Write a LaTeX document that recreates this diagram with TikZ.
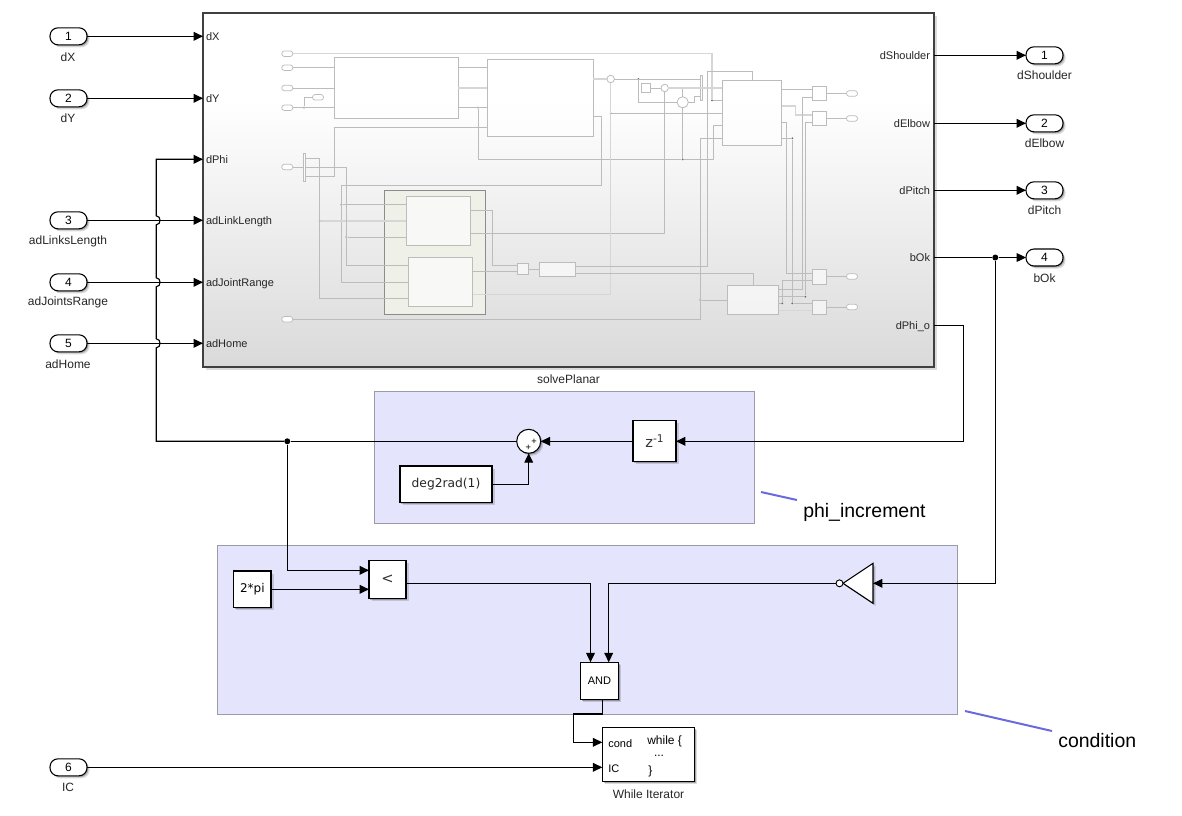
\documentclass[tikz,border=0pt]{standalone}
\usepackage{fontspec}
\setmainfont{Liberation Sans}
\newfontfamily\dejavu{DejaVu Sans}
\usetikzlibrary{arrows.meta,shadows,fit,shapes.geometric}

\definecolor{regionblue}{HTML}{E4E4FC}
\definecolor{regionedge}{HTML}{9A9AA8}
\definecolor{noteblue}{HTML}{6A6ADE}
\definecolor{fadebottom}{HTML}{DADADA}
\definecolor{ghostline}{HTML}{BCBCBC}
\definecolor{ghostbus}{HTML}{D6D6D6}
\definecolor{ghostgroup}{HTML}{EFF1E9}
\pgfdeclareverticalshading{planarfade}{100bp}{color(0bp)=(fadebottom); color(25bp)=(fadebottom); color(62.7bp)=(white); color(100bp)=(white)}

\tikzset{
    softshadow/.style={drop shadow={shadow xshift=1.9pt,shadow yshift=-1.9pt,fill=black,opacity=.14},drop shadow={shadow xshift=1pt,shadow yshift=-1pt,fill=black,opacity=.25}},
    port/.style={draw,thick,fill=white,rounded corners=6pt,minimum width=27.75pt,minimum height=12.75pt,inner sep=0pt,outer sep=0pt,font=\fontsize{9}{10}\selectfont,softshadow},
    caption/.style={inner sep=0pt,text=black!85,font=\fontsize{9}{10}\selectfont},
    portname/.style={inner xsep=2.25pt,inner ysep=0pt,outer sep=0pt,text height=1.5ex,text depth=.25ex,text=black!85,font=\fontsize{8.25}{10}\selectfont},
    block/.style={draw,thick,fill=white,inner sep=0pt,outer sep=0pt,softshadow},
    region/.style={draw=regionedge,fill=regionblue,inner sep=0pt,outer sep=0pt},
    sig/.style={line width=.85pt,-{Triangle[length=7pt,width=6.5pt]}},
    wire/.style={line width=.85pt},
    junction/.style={circle,fill=black,inner sep=0pt,minimum size=4.5pt},
    note/.style={noteblue,line width=1.5pt},
    notetext/.style={inner sep=0pt,font=\fontsize{14.6}{16}\selectfont},
    gwire/.style={draw=ghostline,line width=.55pt},
    gbus/.style={draw=ghostbus,line width=1.1pt},
    gblock/.style={draw=ghostline,line width=.7pt,fill=white,fill opacity=.6,inner sep=0pt,outer sep=0pt},
    gport/.style={draw=ghostline,line width=.55pt,fill=white,rounded corners=2pt,minimum width=8.25pt,minimum height=4.2pt,inner sep=0pt,outer sep=0pt},
    gsum/.style={circle,draw=ghostline,line width=.6pt,fill=white,inner sep=0pt,outer sep=0pt},
    gdot/.style={circle,fill=black!60,inner sep=0pt,minimum size=1.5pt}
}

\begin{document}
\begin{tikzpicture}[x=0.75pt,y=-0.75pt]
    \useasboundingbox (0,0) rectangle (1182,815);

    % Shaded Regions
    \node[region,fit={(374,391) (754,523)}] (phiRegion) {};
    \node[region,fit={(217,545) (957,714)}] (condRegion) {};

    % Subsystem Box
    \node[draw=black!75,thick,shading=planarfade,inner sep=0pt,outer sep=0pt,softshadow,fit={(203,13) (934,367)}] (solvePlanar) {};
    \node[caption] (solveCap) at (568.5,379) {solvePlanar};

    % Faded Contents
    % -- group behind the two inner blocks
    \node[draw=black!45,line width=.7pt,fill=ghostgroup,inner sep=0pt,outer sep=0pt,fit={(384.7,190) (485.7,314.3)}] (gGroup) {};

    % -- blocks
    \node[gblock,fit={(334.3,57.3) (458.3,118.3)}] (gA) {};
    \node[gblock,fit={(487,59.3) (593.3,136.3)}] (gB) {};
    \node[gblock,fit={(722.3,80.7) (781.7,145.3)}] (gJ) {};
    \node[gblock,fit={(406.3,196.7) (470.7,245.3)}] (gD) {};
    \node[gblock,fit={(408,257.7) (472.7,306.3)}] (gE) {};
    \node[gblock,fit={(517.7,263.3) (528.7,274.3)}] (gF) {};
    \node[gblock,fit={(539.3,262.7) (575.3,276.3)}] (gG) {};
    \node[gblock,fit={(727.3,285.3) (778.7,314.7)}] (gH) {};
    \node[gblock,fit={(641.3,83.3) (650.7,92.7)}] (gK) {};
    \node[gblock,fit={(812.3,86.3) (826.7,100.7)}] (gL) {};
    \node[gblock,fit={(812.3,111.3) (826.7,125.7)}] (gM) {};
    \node[gblock,fit={(812.3,269.3) (826.7,284)}] (gN) {};
    \node[gblock,fit={(812.3,300) (826.7,314.7)}] (gO) {};
    \node[gblock,fit={(303.5,153.3) (305.7,181.7)}] (gMuxA) {};
    \node[gblock,fit={(700.7,75.3) (702.7,100.7)}] (gMuxB) {};
    \node[gsum,minimum size=5.6pt] (gC1) at (610.7,79) {};
    \node[gsum,minimum size=5.6pt] (gC2) at (664.7,88) {};
    \node[gsum,minimum size=8.4pt] (gC3) at (682.7,102.3) {};

    % -- ports
    \node[gport] (gP1) at (287.3,53.7) {};
    \node[gport] (gP2) at (287.3,67.7) {};
    \node[gport] (gP3) at (287.3,88) {};
    \node[gport] (gP4) at (287.3,107.7) {};
    \node[gport] (gP5) at (318,97.3) {};
    \node[gport] (gP6) at (287.3,167) {};
    \node[gport] (gP7) at (287.3,319.3) {};
    \node[gport] (gQ1) at (852,93.5) {};
    \node[gport] (gQ2) at (852,118.5) {};
    \node[gport] (gQ3) at (852,276.5) {};
    \node[gport] (gQ4) at (852,307) {};

    % -- branch points
    \node[gdot] (gdA) at (304,107.7) {};
    \node[gdot] (gdB) at (478,107.7) {};
    \node[gdot] (gdC) at (682.7,159.3) {};
    \node[gdot] (gdD) at (341.3,204.7) {};
    \node[gdot] (gdE) at (319.7,221) {};
    \node[gdot] (gdF) at (346.3,237) {};
    \node[gdot] (gdG) at (638.3,79) {};
    \node[gdot] (gdH) at (682.7,88) {};
    \node[gdot] (gdI) at (610.7,113.3) {};
    \node[gdot] (gdJ) at (712,100.3) {};
    \node[gdot] (gdK) at (700.3,300) {};
    \node[gdot] (gdL) at (792.3,138.3) {};
    \node[gdot] (gdM) at (792.3,303.3) {};
    \node[gdot] (gdN) at (805.3,296.7) {};
    \node[gdot] (gdO) at (782.3,303.3) {};

    % -- left part
    \draw[gbus] (gP1) -- (712,53.7) -- (gdJ);
    \draw[gwire] (gdJ) -- (gdJ -| gJ.west);
    \draw[gwire] (gP2) -- (gP2 -| gA.west);
    \draw[gwire] (gP3) -- (gP3 -| gA.west);
    \draw[gwire] (gP4) -- (gP4 -| gA.west);
    \draw[gwire] (gdA) |- (gP5);
    \draw[gwire] (gA.east |- gP2) -- (gB.west |- gP2);
    \draw[gbus] (gA.east |- gP3) -- (gB.west |- gP3);
    \draw[gwire] (gA.east |- gP4) -- (gB.west |- gP4);
    \draw[gwire] (gdB) |- (gdC);
    \draw[gwire] (gdC) -- (713.3,159.3) -- (713.3,125.7) -- (gJ.west |- 0,125.7);
    \draw[gbus] (gB.east |- gC1) -- (gC1);
    \draw[gwire] (gB.east |- 0,116.3) -- (601.7,116.3) -- (601.7,185.3) -- (341.3,185.3) -- (341.3,282.3) -- (gE.west |- 0,282.3);
    \draw[gwire] (gdD) -- (gdD -| gD.west);
    \draw[gwire] (gP6) -- (gP6 -| gMuxA.west);
    \draw[gwire] (gMuxA.east |- 0,158.3) -- (319.7,158.3) -- (319.7,298.3) -- (gE.west |- 0,298.3);
    \draw[gbus] (gdE) -- (gdE -| gD.west);
    \draw[gwire] (gMuxA.east |- gP6) -- (346.3,167) -- (346.3,265.7) -- (gE.west |- 0,265.7);
    \draw[gwire] (gdF) -- (gdF -| gD.west);
    \draw[gwire] (gMuxA.east |- 0,176) -- (334.3,176) -- (334.3,127.3) -- (gB.west |- 0,127.3);

    % -- middle part
    \draw[gwire] (gD.east |- 0,210.3) -- (492.3,210.3) -- (492.3,265.7) -- (gF.west |- 0,265.7);
    \draw[gwire] (gD.east |- 0,233.3) -| (gC2);
    \draw[gwire] (gE.east |- 0,271.3) -- (gF.west |- 0,271.3);
    \draw[gbus] (gE.east |- 0,294.3) -- (610.7,294.3) -- (gC1);
    \draw[gwire] (gF.east |- 0,269.3) -- (gG.west |- 0,269.3);
    \draw[gwire] (gG.east |- 0,266) -- (707.3,266) -- (707.3,71.7) -- (gJ.north |- 0,71.7) -- (gJ.north);
    \draw[gwire] (gG.east |- 0,273.3) -- (gH.north |- 0,273.3) -- (gH.north);
    \draw[gwire] (gC1) -- (gC1 -| gMuxB.west);
    \draw[gwire] (gdG) |- (gC3);
    \draw[gwire] (gK) -- (gC2);
    \draw[gbus] (gC2) -- (gC2 -| gJ.west);
    \draw[gwire] (gdH) -- (gC3);
    \draw[gwire] (gC3) -- (gdC);
    \draw[gwire] (gC3) -- (694,102.3) -- (694,96.7) -- (gMuxB.west |- 0,96.7);
    \draw[gwire] (gdI) -- (gdI -| gJ.west);
    \draw[gwire] (gP7) -- (700.3,319.3) -- (700.3,138.3) -- (gJ.west |- 0,138.3);
    \draw[gwire] (gdK) -- (gdK -| gH.west);

    % -- right part
    \draw[gwire] (gJ.east |- 0,89.3) -- (gL.west |- 0,89.3);
    \draw[gbus] (gJ.east |- 0,106) -- (795.7,106) -- (795.7,115) -- (gM.west |- 0,115);
    \draw[gwire] (gJ.east |- 0,122.3) -- (786.7,122.3) -- (786.7,273.3) -- (gN.west |- 0,273.3);
    \draw[gwire] (gJ.east |- gdL) -- (gdL) -- (gdM) -- (gdM -| gO.west);
    \draw[gwire] (gL.west |- 0,97) -- (802.3,97) -- (802.3,289) -- (gH.east |- 0,289);
    \draw[gwire] (gM.west |- 0,122.3) -- (805.3,122.3) -- (gdN) -- (gdN -| gH.east);
    \draw[gwire] (gH.east |- gdO) -- (gdO) -- (782.3,280.3) -- (gN.west |- 0,280.3);
    \draw[gbus] (gH.east |- 0,310.7) -- (gO.west |- 0,310.7);
    \draw[gwire] (gQ1 -| gL.east) -- (gQ1);
    \draw[gwire] (gQ2 -| gM.east) -- (gQ2);
    \draw[gwire] (gQ3 -| gN.east) -- (gQ3);
    \draw[gwire] (gQ4 -| gO.east) -- (gQ4);

    % Inport Names
    \node[portname,anchor=west] (lbX) at (203,36.3) {dX};
    \node[portname,anchor=west] (lbY) at (203,98.3) {dY};
    \node[portname,anchor=west] (lbPhi) at (203,159.3) {dPhi};
    \node[portname,anchor=west] (lbLink) at (203,220.3) {adLinkLength};
    \node[portname,anchor=west] (lbJoint) at (203,282.3) {adJointRange};
    \node[portname,anchor=west] (lbHome) at (203,343.3) {adHome};

    % Outport Names
    \node[portname,inner xsep=3pt,anchor=east] (lbShoulder) at (934,55.3) {dShoulder};
    \node[portname,inner xsep=3pt,anchor=east] (lbElbow) at (934,123.3) {dElbow};
    \node[portname,inner xsep=3pt,anchor=east] (lbPitch) at (934,190.3) {dPitch};
    \node[portname,inner xsep=3pt,anchor=east] (lbOk) at (934,257.5) {bOk};
    \node[portname,inner xsep=3pt,anchor=east] (lbPhiO) at (934,325.5) {dPhi\_o};

    % Inports
    \node[port] (inX) at (68.5,36.3) {1};
    \node[port] (inY) at (68.5,98.3) {2};
    \node[port] (inLink) at (68.5,220.3) {3};
    \node[port] (inJoint) at (68.5,282.3) {4};
    \node[port] (inHome) at (68.5,343.3) {5};
    \node[port] (inIC) at (68.5,767.3) {6};
    \node[caption] (capX) at (68,57) {dX};
    \node[caption] (capY) at (68,118) {dY};
    \node[caption] (capLink) at (68,241) {adLinksLength};
    \node[caption] (capJoint) at (68,302) {adJointsRange};
    \node[caption] (capHome) at (68,364) {adHome};
    \node[caption] (capIC) at (68,787) {IC};

    % Outports
    \node[port] (outShoulder) at (1044.5,55.3) {1};
    \node[port] (outElbow) at (1044.5,123.3) {2};
    \node[port] (outPitch) at (1044.5,190.3) {3};
    \node[port] (outOk) at (1044.5,257.5) {4};
    \node[caption] (capShoulder) at (1044.5,75) {dShoulder};
    \node[caption] (capElbow) at (1044.5,143) {dElbow};
    \node[caption] (capPitch) at (1044.5,210) {dPitch};
    \node[caption] (capOk) at (1044.5,278) {bOk};

    % Increment Blocks
    \node[block,fit={(633,420.7) (676,461.9)}] (unitDelay) {};
    \node[inner sep=0pt,font=\dejavu\fontsize{11}{12}\selectfont,text=black!80] (unitDelayText) at (unitDelay) {z\raisebox{.6ex}{\fontsize{8}{9}\selectfont -1}};
    \node[block,circle,minimum size=18pt] (sum) at (528.7,441.3) {};
    \node[inner sep=0pt,font=\fontsize{7}{7}\selectfont] (sumPlusA) at (534,441.5) {+};
    \node[inner sep=0pt,font=\fontsize{7}{7}\selectfont] (sumPlusB) at (528.3,448) {+};
    \node[block,fit={(400,466) (492,502.6)}] (degBox) {};
    \node[inner sep=0pt,font=\dejavu\fontsize{9.2}{10}\selectfont,text=black!85] (degText) at (degBox) {deg2rad(1)};

    % Condition Blocks
    \node[block,fit={(233.7,571) (271,607.6)}] (twoPi) {};
    \node[inner sep=0pt,font=\dejavu\fontsize{9}{10}\selectfont] (twoPiText) at (twoPi) {2*pi};
    \node[block,fit={(369,560.3) (406,598.3)}] (lessBox) {};
    \node[inner sep=0pt,font=\dejavu\fontsize{11}{12}\selectfont,text=black!80] (lessText) at (lessBox) {<};
    \node[block,fit={(580.3,662.3) (618.7,699.3)}] (andBox) {};
    \node[inner sep=0pt,font=\fontsize{8.25}{10}\selectfont] (andText) at (andBox) {AND};
    \node[block,isosceles triangle,isosceles triangle stretches,shape border rotate=180,minimum width=30pt,minimum height=22.5pt,anchor=lower side] (notGate) at (873,583.3) {};
    \node[circle,draw,line width=.7pt,fill=white,inner sep=0pt,minimum size=5.2pt,outer sep=0pt] (notBubble) at (839.5,583.3) {};

    % While Iterator
    \node[block,fit={(602.3,727.7) (694.7,781.3)}] (whileBox) {};
    \node[inner sep=0pt,anchor=west,font=\fontsize{8.25}{10}\selectfont] (whileCond) at (608,743.5) {cond};
    \node[inner sep=0pt,anchor=west,font=\fontsize{8.25}{10}\selectfont] (whileIC) at (608,768.3) {IC};
    \node[inner sep=0pt,anchor=west,font=\fontsize{9}{10}\selectfont] (whileOpen) at (647,741) {while \{};
    \node[inner sep=0pt,font=\fontsize{9}{10}\selectfont] (whileDots) at (659,756) {...};
    \node[inner sep=0pt,anchor=west,font=\fontsize{9}{10}\selectfont] (whileClose) at (648,771) {\}};
    \node[caption] (whileCap) at (648.5,794) {While Iterator};

    % Junctions and Block Inputs
    \node[junction] (jPhi) at (287.3,441.3) {};
    \node[junction] (jOk) at (995.3,257.5) {};
    \coordinate (busPhi) at (156.3,441.3);
    \coordinate (bendO) at (963.5,441.3);
    \coordinate (lessInA) at (369,570.3);
    \coordinate (lessInB) at (369,589.3);
    \coordinate (lessOut) at (406,583.3);
    \coordinate (andInA) at (590.5,662.3);
    \coordinate (andInB) at (608.7,662.3);
    \coordinate (andOut) at (602.7,699.3);
    \coordinate (whileInA) at (602.3,742.3);
    \coordinate (whileInB) at (602.3,767.3);

    % Top Level Signals
    \draw[sig] (inX) -- (lbX);
    \draw[sig] (inY) -- (lbY);
    \draw[sig] (inLink) -- (lbLink);
    \draw[sig] (inJoint) -- (lbJoint);
    \draw[sig] (inHome) -- (lbHome);
    \draw[sig] (lbShoulder) -- (outShoulder);
    \draw[sig] (lbElbow) -- (outElbow);
    \draw[sig] (lbPitch) -- (outPitch);
    \draw[wire] (lbOk) -- (jOk);
    \draw[sig] (jOk) -- (outOk);

    % -- feedback through the delay
    \draw[sig] (lbPhiO) -| (bendO) -- (unitDelay);
    \draw[sig] (unitDelay) -- (sum);
    \draw[sig] (degBox) -| (sum);
    \draw[wire] (sum) -- (jPhi);
    \draw[sig] (jPhi) -- (busPhi) -- (156.3,347.8)
        .. controls (161.3,347.8) and (161.3,338.8) .. (156.3,338.8) -- (156.3,286.8)
        .. controls (161.3,286.8) and (161.3,277.8) .. (156.3,277.8) -- (156.3,224.8)
        .. controls (161.3,224.8) and (161.3,215.8) .. (156.3,215.8) -- (156.3,159.3) -- (lbPhi);

    % -- condition
    \draw[sig] (jPhi) |- (lessInA);
    \draw[sig] (twoPi.east |- lessInB) -- (lessInB);
    \draw[sig] (lessOut) -| (andInA);
    \draw[sig] (jOk) |- (notGate.lower side);
    \draw[sig] (notBubble) -| (andInB);
    \draw[sig] (andOut) |- (573.7,714) |- (whileInA);
    \draw[sig] (inIC) -- (whileInB);

    % Annotations
    \node[notetext,anchor=west] (phiNote) at (803,512) {phi\_increment};
    \node[notetext,anchor=west] (condNote) at (1058,741) {condition};
    \coordinate (phiNoteEnd) at (797,500);
    \coordinate (phiNoteStart) at (761,492);
    \coordinate (condNoteEnd) at (1052,731);
    \coordinate (condNoteStart) at (965,711);
    \draw[note] (phiNoteStart) -- (phiNoteEnd);
    \draw[note] (condNoteStart) -- (condNoteEnd);
\end{tikzpicture}
\end{document}
